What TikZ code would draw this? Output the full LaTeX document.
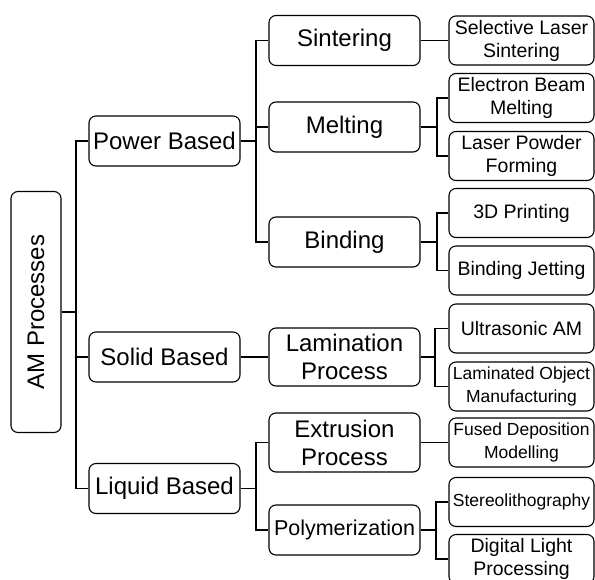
\documentclass[tikz,border=0pt]{standalone}
\usepackage{fontspec}
\setmainfont{Liberation Sans}

\begin{document}
\begin{tikzpicture}[x=1pt, y=-1pt, line width=1.1pt,
    box/.style={draw, rounded corners=7pt, align=center, inner sep=1pt},
    rootbox/.style={box, rotate=90, minimum width=241pt, minimum height=50pt, font=\fontsize{24}{28}\selectfont},
    groupbox/.style={box, minimum width=151pt, minimum height=50pt, font=\fontsize{24}{28}\selectfont},
    procbox/.style={box, minimum width=151pt, minimum height=50pt, font=\fontsize{24}{28}\selectfont},
    leafbox/.style={box, minimum width=145pt, minimum height=49pt, font=\fontsize{19.5}{23}\selectfont},
    smallleaf/.style={leafbox, font=\fontsize{17.5}{23}\selectfont}]

    \useasboundingbox (0,0) rectangle (595,579);

    % root and first level
    \node[rootbox] (am) at (36,312) {AM Processes};
    \node[groupbox] (power) at (164.5,141) {Power Based};
    \node[groupbox] (solid) at (164.5,357) {Solid Based};
    \node[groupbox] (liquid) at (164.5,488.5) {Liquid Based};

    % second level
    \node[procbox] (sinter) at (344.5,40.5) {Sintering};
    \node[procbox] (melt) at (344.5,127) {Melting};
    \node[procbox] (bind) at (344.5,242) {Binding};
    \node[procbox, minimum height=58pt] (lamin) at (344.5,357) {Lamination\\Process};
    \node[procbox, minimum height=59pt] (extru) at (344.5,442.5) {Extrusion\\Process};
    \node[procbox, font=\fontsize{21.5}{26}\selectfont] (polym) at (344.5,530) {Polymerization};

    % third level
    \node[leafbox] (sls) at (521.5,40.5) {Selective Laser\\Sintering};
    \node[leafbox] (ebm) at (521.5,98) {Electron Beam\\Melting};
    \node[leafbox] (lpf) at (521.5,156) {Laser Powder\\Forming};
    \node[leafbox] (tdp) at (521.5,213) {3D Printing};
    \node[leafbox] (bjet) at (521.5,270.5) {Binding Jetting};
    \node[leafbox] (uam) at (521.5,328.5) {Ultrasonic AM};
    \node[smallleaf] (lom) at (521.5,386.5) {Laminated Object\\Manufacturing};
    \node[smallleaf] (fdm) at (521.5,442.5) {Fused Deposition\\Modelling};
    \node[smallleaf] (sla) at (521.5,502) {Stereolithography};
    \node[leafbox] (dlp) at (521.5,559) {Digital Light\\Processing};

    % root connectors
    \coordinate (j0) at (76,312);
    \draw (am.south) -- (j0);
    \draw (power.west) -| (j0) |- (liquid.west);
    \draw (solid.west) -- (solid.west -| j0);

    % power based
    \coordinate (j1) at (256,141);
    \draw (power.east) -- (j1);
    \draw (sinter.west) -| (j1) |- (bind.west);
    \draw (melt.west) -- (melt.west -| j1);
    \draw (sinter.east) -- (sls.west);
    \coordinate (j2) at (437,127);
    \draw (melt.east) -- (j2);
    \draw (ebm.west) -| (j2) |- (lpf.west);
    \coordinate (j3) at (437,242);
    \draw (bind.east) -- (j3);
    \draw (tdp.west) -| (j3) |- (bjet.west);

    % solid based
    \draw (solid.east) -- (lamin.west);
    \coordinate (j4) at (435,357);
    \draw (lamin.east) -- (j4);
    \draw (uam.west) -| (j4) |- (lom.west);

    % liquid based
    \coordinate (j5) at (256,488.5);
    \draw (liquid.east) -- (j5);
    \draw (extru.west) -| (j5) |- (polym.west);
    \draw (extru.east) -- (fdm.west);
    \coordinate (j6) at (436,530);
    \draw (polym.east) -- (j6);
    \draw (sla.west) -| (j6) |- (dlp.west);

\end{tikzpicture}
\end{document}
